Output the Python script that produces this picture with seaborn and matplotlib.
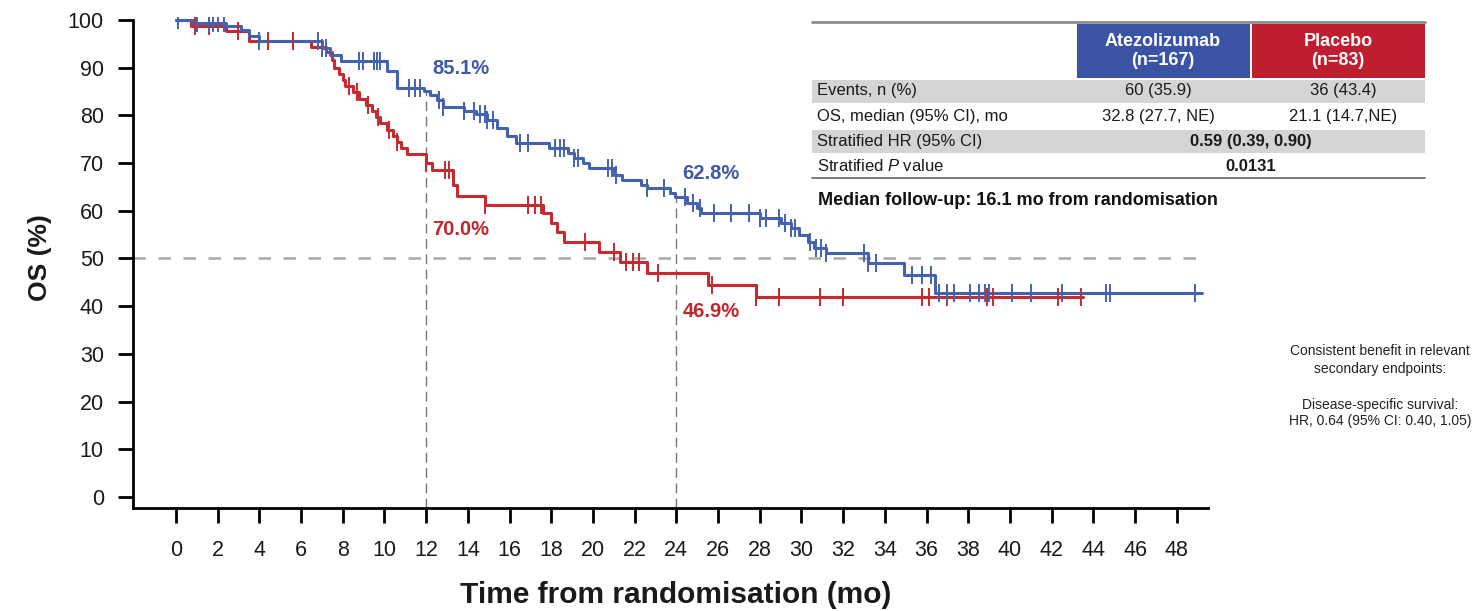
import numpy as np
import pandas as pd
import matplotlib
matplotlib.use("Agg")
import matplotlib.pyplot as plt
import seaborn as sns
from matplotlib.patches import Rectangle
from matplotlib.lines import Line2D

# ---------------- data ----------------
atezo_event_t = [0.8, 2.4, 3.1, 3.5, 4.0, 7.0, 7.4, 7.9, 10.1, 10.6, 11.9, 12.2, 12.5, 12.8,
                 13.8, 14.4, 14.9, 15.4, 15.9, 16.3, 17.9, 18.8, 19.1, 19.5, 19.8, 21.0, 21.4,
                 22.3, 22.6, 23.7, 23.95, 24.5, 25.0, 25.2, 28.0, 29.0, 29.5, 29.9, 30.3, 30.6,
                 31.2, 33.2, 34.9, 36.4]
atezo_event_s = [99.4, 98.8, 97.9, 96.6, 95.5, 94.1, 92.7, 91.5, 89.2, 85.8, 85.1, 84.2, 83.2, 81.7,
                 81.0, 80.2, 79.0, 77.4, 75.7, 74.3, 73.2, 72.1, 71.0, 70.0, 69.0, 67.6, 66.5,
                 65.4, 64.8, 63.7, 62.8, 61.6, 60.6, 59.5, 58.5, 57.4, 56.4, 54.9, 53.5, 52.2,
                 51.2, 49.1, 46.5, 42.8]
atezo_censor_t = [0.1, 1.0, 1.6, 1.8, 2.0, 2.3, 4.0, 6.8, 7.0, 7.2, 8.8, 8.95, 9.5, 9.65, 9.8,
                  11.2, 11.45, 11.7, 12.6, 12.8, 13.8, 14.3, 14.6, 14.8, 14.9, 15.2, 16.5, 16.9,
                  18.2, 18.4, 18.6, 19.1, 19.3, 20.7, 20.9, 21.1, 22.6, 23.4, 24.4, 24.8, 25.15,
                  25.8, 26.6, 27.5, 28.0, 28.3, 28.9, 29.2, 29.5, 29.7, 30.4, 30.7, 30.95, 31.2,
                  33.0, 33.2, 33.6, 35.3, 35.8, 36.2, 36.6, 37.0, 37.3, 38.1, 38.5, 38.8, 39.0,
                  40.1, 41.0, 42.5, 44.6, 44.8, 48.9]
atezo_end = 49.2

placebo_event_t = [0.7, 2.4, 3.5, 6.5, 7.2, 7.5, 7.6, 7.8, 8.0, 8.1, 8.5, 8.8, 9.1, 9.4, 9.6,
                   9.8, 10.1, 10.4, 10.6, 10.8, 11.1, 12.0, 12.3, 13.3, 13.5, 14.8, 17.6, 18.0,
                   18.3, 18.6, 20.3, 21.3, 22.6, 25.5, 27.8]
placebo_event_s = [98.8, 97.6, 95.6, 94.4, 93.2, 91.6, 90.0, 88.7, 87.4, 86.1, 84.8, 83.5, 82.2,
                   80.9, 79.6, 78.3, 77.0, 75.7, 74.4, 73.1, 71.8, 70.0, 68.5, 65.5, 63.0, 61.3,
                   59.5, 57.5, 55.5, 53.5, 51.4, 49.3, 46.9, 44.4, 41.9]
placebo_censor_t = [0.9, 1.6, 3.0, 4.4, 5.6, 8.3, 8.7, 9.2, 9.7, 10.2, 10.6, 12.0, 12.9, 13.1,
                    14.8, 16.9, 17.2, 17.5, 19.6, 21.0, 21.6, 21.9, 22.2, 23.1, 25.7, 27.8, 28.9,
                    30.9, 32.0, 35.8, 36.1, 37.0, 38.9, 39.2, 42.3, 43.4]
placebo_end = 43.5

arm_colors = {"Atezolizumab": "#4562AE", "Placebo": "#C42A2F"}

x_ticks = list(range(0, 50, 2))
y_ticks = list(range(0, 101, 10))
landmark_t = [12, 24]
atezo_landmark = [85.1, 62.8]
placebo_landmark = [70.0, 46.9]

table_row_labels = ["Events, n (%)", "OS, median (95% CI), mo", "Stratified HR (95% CI)",
                    r"Stratified $\mathit{P}$ value"]
table_atezo = ["60 (35.9)", "32.8 (27.7, NE)"]
table_placebo = ["36 (43.4)", "21.1 (14.7,NE)"]
table_combined = ["0.59 (0.39, 0.90)", "0.0131"]
header_atezo = "Atezolizumab\n(n=167)"
header_placebo = "Placebo\n(n=83)"
followup_text = "Median follow-up: 16.1 mo from randomisation"
side_text = ["Consistent benefit in relevant", "secondary endpoints:", "",
             "Disease-specific survival:", "HR, 0.64 (95% CI: 0.40, 1.05)"]


def step_frame(arm, ev_t, ev_s, end):
    t = [0.0] + list(ev_t) + [end]
    s = [100.0] + list(ev_s) + [ev_s[-1]]
    return pd.DataFrame({"t": t, "s": s, "arm": arm})


def censor_frame(arm, ev_t, ev_s, c_t):
    ev_t = np.asarray(ev_t)
    lv = np.concatenate([[100.0], ev_s])
    idx = np.searchsorted(ev_t, np.asarray(c_t), side="right")
    return pd.DataFrame({"t": c_t, "s": lv[idx], "arm": arm})


curves = pd.concat([
    step_frame("Placebo", placebo_event_t, placebo_event_s, placebo_end),
    step_frame("Atezolizumab", atezo_event_t, atezo_event_s, atezo_end),
], ignore_index=True)
censors = pd.concat([
    censor_frame("Placebo", placebo_event_t, placebo_event_s, placebo_censor_t),
    censor_frame("Atezolizumab", atezo_event_t, atezo_event_s, atezo_censor_t),
], ignore_index=True)

# ---------------- style ----------------
sns.set_theme(style="white")
plt.rcParams["font.family"] = ["Liberation Sans", "DejaVu Sans"]
plt.rcParams["mathtext.fontset"] = "custom"
plt.rcParams["mathtext.rm"] = "Liberation Sans"
plt.rcParams["mathtext.it"] = "Liberation Sans:italic"

W, H = 1476, 611
fig = plt.figure(figsize=(W / 100, H / 100), dpi=100)
fig.patch.set_facecolor("white")


def fx(x):
    return x / W


def fy(y):
    return 1 - y / H


ax = fig.add_axes([fx(133), fy(508), fx(1208) - fx(133), fy(17.1) - fy(508)])
ax.patch.set_alpha(0)

# reference lines
ax.axhline(50, color="#A9A9A9", lw=1.8, dashes=(5, 5), zorder=1)
for t, s in zip(landmark_t, atezo_landmark):
    ax.plot([t, t], [-2.3, s], color="#777777", lw=1.0, dashes=(7, 4), zorder=1)

for arm in ["Placebo", "Atezolizumab"]:
    sns.lineplot(data=curves[curves.arm == arm], x="t", y="s", color=arm_colors[arm],
                 drawstyle="steps-post", estimator=None, sort=False, lw=2.2, ax=ax,
                 legend=False, zorder=3)
    sns.scatterplot(data=censors[censors.arm == arm], x="t", y="s", color=arm_colors[arm],
                    marker="|", s=150, linewidth=1.4, ax=ax, legend=False, zorder=4)

# landmark labels
for t, s, lab_y in zip(landmark_t, atezo_landmark, [89.8, 67.9]):
    ax.text(t + 0.3, lab_y, f"{s:.1f}%", color="#3F58A8", fontsize=14.5, fontweight="bold",
            ha="left", va="center")
for t, s, lab_y in zip(landmark_t, placebo_landmark, [56.0, 38.8]):
    ax.text(t + 0.3, lab_y, f"{s:.1f}%", color="#C0272D", fontsize=14.5, fontweight="bold",
            ha="left", va="center")

ax.set_xlim(-2.06, 49.5)
ax.set_ylim(-2.3, 100.6)
ax.set_xticks(x_ticks)
ax.set_yticks(y_ticks)
ax.set_xticklabels([str(v) for v in x_ticks])
ax.set_yticklabels([str(v) for v in y_ticks])
ax.set_xlabel("")
ax.set_ylabel("")
for side in ["top", "right"]:
    ax.spines[side].set_visible(False)
for side in ["left", "bottom"]:
    ax.spines[side].set_color("black")
    ax.spines[side].set_linewidth(2.0)
ax.spines["left"].set_bounds(-2.3, 100)
ax.tick_params(axis="both", which="major", direction="out", length=11, width=2.0,
               color="black", labelsize=15.5, labelcolor="#1a1a1a",
               bottom=True, left=True, top=False, right=False)
ax.tick_params(axis="x", pad=12)
ax.tick_params(axis="y", pad=10)

fig.text(fx(40), fy(258), "OS (%)", rotation=90, ha="center", va="center",
         fontsize=19, fontweight="bold", color="#1a1a1a")
fig.text(fx(676), fy(595), "Time from randomisation (mo)", ha="center", va="center",
         fontsize=21.5, fontweight="bold", color="#1a1a1a")

# ---------------- table ----------------
def frect(x0, y0, x1, y1, color):
    fig.add_artist(Rectangle((fx(x0), fy(y1)), fx(x1) - fx(x0), fy(y0) - fy(y1),
                             transform=fig.transFigure, facecolor=color, edgecolor="none",
                             zorder=5))


def fline(x0, x1, y, color, lw):
    fig.add_artist(Line2D([fx(x0), fx(x1)], [fy(y), fy(y)], transform=fig.transFigure,
                          color=color, lw=lw, zorder=6))


frect(1077, 24, 1250, 78, "#3A53A4")
frect(1252, 24, 1425, 78, "#BE1E2D")
frect(812, 80, 1425, 103, "#D4D4D4")
frect(812, 130, 1425, 153, "#D4D4D4")
fline(812, 1425, 22, "#8C8C8C", 2.0)
fline(812, 1425, 178, "#6E6E6E", 1.3)

txt_kw = dict(zorder=7)
fig.text(fx(1163), fy(51), header_atezo, ha="center", va="center", color="white",
         fontsize=13, fontweight="bold", linespacing=1.15, **txt_kw)
fig.text(fx(1338), fy(51), header_placebo, ha="center", va="center", color="white",
         fontsize=13, fontweight="bold", linespacing=1.15, **txt_kw)

row_y = [91, 117, 141, 166]
for lab, y in zip(table_row_labels, row_y):
    fig.text(fx(817), fy(y), lab, ha="left", va="center", fontsize=12, color="#1a1a1a", **txt_kw)
for a, p, y in zip(table_atezo, table_placebo, row_y[:2]):
    fig.text(fx(1158), fy(y), a, ha="center", va="center", fontsize=12, color="#1a1a1a", **txt_kw)
    fig.text(fx(1343), fy(y), p, ha="center", va="center", fontsize=12, color="#1a1a1a", **txt_kw)
for c, y in zip(table_combined, row_y[2:]):
    fig.text(fx(1251), fy(y), c, ha="center", va="center", fontsize=12,
             fontweight="bold", color="#1a1a1a", **txt_kw)

fig.text(fx(818), fy(201), followup_text, ha="left", va="center", fontsize=13,
         fontweight="bold", color="#111111", **txt_kw)

side_y = [351, 369, 387, 405, 421]
for txt, y in zip(side_text, side_y):
    if txt:
        fig.text(fx(1380), fy(y), txt, ha="center", va="center", fontsize=10,
                 color="#222222", **txt_kw)

fig.savefig("out.png", dpi=100, facecolor="white")
